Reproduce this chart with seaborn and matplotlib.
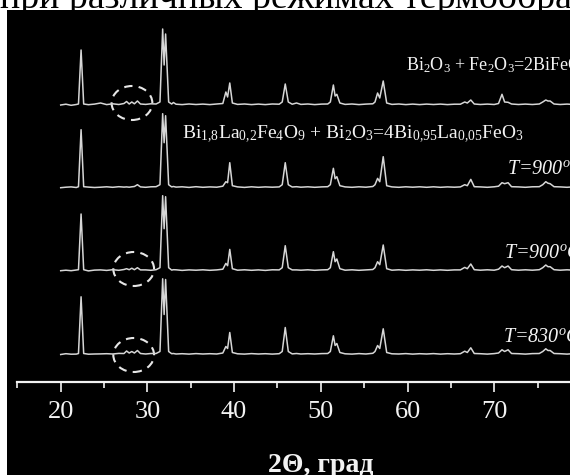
import numpy as np
import pandas as pd
import matplotlib
matplotlib.use("Agg")
import matplotlib.pyplot as plt
import seaborn as sns
from matplotlib.patches import Ellipse, Rectangle

# ---------------- data ----------------
two_theta = [20.0, 20.6, 21.2, 21.8, 22.05, 22.35, 22.65, 23.2, 23.9, 24.6, 25.3, 26.0, 26.7,
             27.3, 27.6, 27.9, 28.2, 28.5, 28.85, 29.2, 29.8, 30.4, 31.0, 31.45, 31.76, 31.93,
             32.1, 32.45, 32.8, 33.0, 33.3, 34.0, 34.8, 35.6, 36.4, 37.2, 38.0, 38.7, 39.05,
             39.25, 39.5, 39.8, 40.4, 41.2, 42.0, 42.8, 43.6, 44.4, 45.2, 45.55, 45.9, 46.25,
             46.7, 47.2, 47.7, 48.5, 49.3, 50.1, 50.8, 51.1, 51.45, 51.65, 51.85, 52.2, 52.8,
             53.6, 54.4, 55.2, 56.0, 56.25, 56.55, 56.8, 57.2, 57.6, 58.2, 59.0, 59.8, 60.6,
             61.4, 62.2, 63.0, 63.8, 64.6, 65.4, 66.1, 66.6, 66.9, 67.3, 67.7, 68.4, 69.2,
             70.0, 70.5, 70.9, 71.2, 71.6, 72.0, 72.8, 73.6, 74.4, 75.2, 75.6, 75.95, 76.2,
             76.45, 76.9, 77.6, 78.4, 79.2, 80.0]

int_bi2o3_fe2o3 = [0, 0.8, -0.3, 0.5, 1, 55, 1, 0.3, 0.9, 2, 0.4, 1.2, 0.5,
                   1.5, 3.5, 1.0, 3.0, 1.2, 4.0, 1.0, 0.6, 1.2, 1.0, 3, 76, 40,
                   71, 3, 1.0, 2.5, 0.8, 0.4, 1.0, 0.5, 0.9, 0.4, 1.0, 1.5, 13,
                   8, 22, 2, 0.6, 1.0, 0.4, 0.9, 0.4, 1.0, 0.8, 3, 21, 3,
                   0.8, 2.0, 0.6, 1.0, 0.4, 0.9, 1.0, 3, 20, 9, 10.7, 2, 0.6,
                   1.0, 0.4, 0.9, 1.2, 3, 12, 7, 24, 2, 0.6, 1.0, 0.4, 0.9,
                   0.4, 0.9, 0.5, 0.9, 0.4, 0.8, 0.8, 3, 2, 5, 1, 0.5, 0.9,
                   0.5, 1.5, 10.7, 3, 2.7, 1, 0.5, 0.9, 0.5, 1.0, 3, 5, 4,
                   4, 1, 0.5, 0.9, 0.5, 0.8]

int_fe4o9_bi2o3 = [0, 0.5, 0.8, 0.2, 1, 58, 1, 0.6, 0.2, 0.5, 0.9, 0.4, 1.0,
                   0.6, 0.8, 0.5, 0.9, 1.2, 3.0, 0.8, 0.4, 0.9, 1.0, 3, 74, 45,
                   72, 3, 0.8, 1.2, 0.6, 0.9, 0.3, 1.0, 0.4, 0.8, 0.5, 1.5, 6,
                   5, 25, 2, 0.8, 0.3, 0.9, 0.4, 0.8, 0.5, 0.8, 3, 25, 3,
                   0.7, 1.0, 0.5, 0.9, 0.4, 0.8, 1.0, 3, 19.4, 9, 11, 2, 0.8,
                   0.4, 0.9, 0.5, 1.2, 3, 9.3, 6, 31, 2, 0.8, 0.4, 0.9, 0.5,
                   0.9, 0.4, 0.9, 0.4, 0.8, 0.5, 0.8, 3, 2, 8.3, 1, 0.8, 0.4,
                   0.9, 1.5, 5, 4, 5, 1, 0.8, 0.4, 0.9, 1.0, 3, 6, 4.5,
                   4, 1, 0.8, 0.4, 0.9, 0.5]

int_t900 = [0, 0.5, 0, 0.7, 1, 56.7, 1, -0.2, 0.6, 0.8, 0.3, 1.0, 0.4,
            1.2, 2.0, 1.0, 2.5, 1.0, 3.0, 0.8, 0.8, 0.4, 1.0, 3, 75, 42,
            74, 3, 0.6, 1.0, 0.9, 0.3, 0.8, 0.5, 0.9, 0.4, 0.8, 1.5, 7.3,
            5, 21.3, 2, 0.5, 0.9, 0.4, 0.8, 0.3, 0.9, 0.8, 3, 25, 3,
            0.8, 0.8, 0.5, 0.9, 0.4, 0.8, 1.0, 3, 19, 9, 11.7, 2, 0.5,
            0.9, 0.4, 0.8, 1.2, 3, 9, 6, 25.7, 2, 0.5, 0.9, 0.4, 0.8,
            0.5, 0.9, 0.4, 0.8, 0.4, 0.8, 0.8, 3.3, 2, 6.7, 1, 0.5, 0.9,
            0.5, 1.5, 4.7, 3, 4.7, 1, 0.5, 0.9, 0.5, 1.0, 3, 5.7, 4,
            4, 1, 0.5, 0.9, 0.5, 0.8]

int_t830 = [0, 0.8, 0.3, 0.4, 1, 57.7, 1, 0.3, 0.5, 0.6, 0.8, 0.5, 1.1,
            1.0, 3.5, 1.5, 3.0, 1.5, 4.0, 1.0, 0.5, 1.0, 1.0, 3, 75.7, 40,
            75, 3, 0.8, 1.0, 0.5, 0.8, 0.4, 0.9, 0.5, 0.8, 0.5, 1.5, 8,
            6, 22, 2, 0.7, 0.4, 0.9, 0.5, 0.8, 0.4, 0.8, 3, 27, 3,
            0.6, 1.0, 0.5, 0.8, 0.5, 0.9, 1.0, 3, 18.7, 9, 11, 2, 0.7,
            0.4, 0.9, 0.5, 1.2, 3, 9, 6, 25.7, 2, 0.7, 0.5, 0.9, 0.4,
            0.8, 0.5, 0.9, 0.4, 0.8, 0.5, 0.8, 3.3, 2, 6.7, 1, 0.8, 0.4,
            0.9, 1.5, 4.7, 3, 4.7, 1, 0.8, 0.4, 0.9, 1.0, 3, 5.7, 4,
            4, 1, 0.8, 0.4, 0.9, 0.5]

series = [int_bi2o3_fe2o3, int_fe4o9_bi2o3, int_t900, int_t830]
series_names = ["Bi2O3+Fe2O3", "Bi1.8La0.2Fe4O9+Bi2O3", "T900", "T830"]

major_ticks = [20, 30, 40, 50, 60, 70]
minor_ticks = [15, 25, 35, 45, 55, 65, 75]

# ---------------- layout / style ----------------
offsets = [277, 194.3, 111.3, 27.5]
FG = "#f2f2f2"
LINE = "#d6d6d6"
SERIF = "Liberation Serif"

plt.rcParams["mathtext.fontset"] = "custom"
plt.rcParams["mathtext.rm"] = SERIF
plt.rcParams["mathtext.it"] = SERIF + ":italic"
plt.rcParams["mathtext.bf"] = SERIF + ":bold"
plt.rcParams["font.family"] = [SERIF, "DejaVu Sans"]

fig = plt.figure(figsize=(5.7, 4.75), dpi=100)
fig.patch.set_facecolor("white")

# cropped caption from the page above
fig.text(0.0, 1 - 8 / 475, "при различных режимах термообра", fontsize=27.3,
         color="black", ha="left", va="baseline", zorder=0, family=SERIF)
fig.patches.append(Rectangle((7 / 570, 0), 1, (475 - 10) / 475, transform=fig.transFigure,
                             facecolor="black", edgecolor="none", zorder=1))

ax = fig.add_axes([17.35 / 570, (475 - 382) / 475, 606.9 / 570, 372 / 475])
ax.set_zorder(2)
ax.patch.set_alpha(0)

for vals, off, name in zip(series, offsets, series_names):
    df = pd.DataFrame({"two_theta": two_theta, "intensity": np.array(vals) + off})
    sns.lineplot(data=df, x="two_theta", y="intensity", ax=ax, color=LINE, lw=1.1,
                 estimator=None, sort=False)

# dashed ellipses marking the weak reflections
for cx, cy in [(28.22, 279), (28.42, 113), (28.42, 27)]:
    ax.add_patch(Ellipse((cx, cy), 4.7, 34, fill=False, edgecolor="#e6e6e6", lw=1.5,
                         linestyle=(0, (4, 3))))

ax.set_xlim(15, 85)
ax.set_ylim(0, 372)
for s in ["top", "left", "right"]:
    ax.spines[s].set_visible(False)
ax.spines["bottom"].set_color(FG)
ax.spines["bottom"].set_linewidth(1.6)
ax.set_yticks([])
ax.set_xticks(major_ticks)
ax.set_xticks(minor_ticks, minor=True)
ax.tick_params(axis="x", which="major", direction="out", length=7, width=1.2, color=FG,
               labelcolor=FG, labelsize=19, pad=7)
ax.tick_params(axis="x", which="minor", direction="out", length=4, width=1.2, color=FG)
for lab in ax.get_xticklabels():
    lab.set_family(SERIF)
ax.set_xlabel("2Θ, град", fontsize=20, fontweight="bold", color=FG, family=SERIF, labelpad=21)
ax.set_ylabel("")

# annotations
ax.text(59.83, 312, r"Bi$_{2}$O$_{3}$ + Fe$_{2}$O$_{3}$=2BiFeO$_{3}$", fontsize=13,
        color=FG, ha="left", va="baseline", family=SERIF)
ax.text(33.95, 243.5,
        r"Bi$_{1{,}8}$La$_{0{,}2}$Fe$_{4}$O$_{9}$ + Bi$_{2}$O$_{3}$=4Bi$_{0{,}95}$La$_{0{,}05}$FeO$_{3}$",
        fontsize=14, color=FG, ha="left", va="baseline", family=SERIF)
for tx, ty, lab in [(71.44, 207.7, "900"), (71.13, 123.7, "900"), (70.98, 39.7, "830")]:
    ax.text(tx, ty, r"$T$=" + lab + r"$^{o}$C", fontsize=14.5, color=FG, ha="left",
            va="baseline", family=SERIF, style="italic")

fig.savefig("out.png", dpi=100, facecolor=fig.get_facecolor())
